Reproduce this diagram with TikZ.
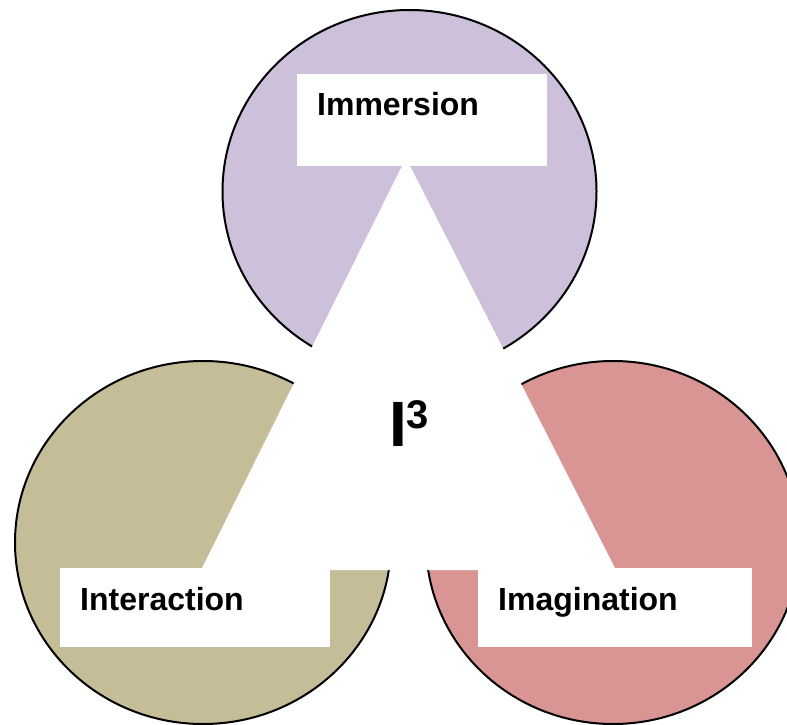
\documentclass[tikz,border=0pt]{standalone}
\usepackage{fontspec}
\setmainfont{Liberation Sans}
\definecolor{lav}{HTML}{CCC0DA}
\definecolor{tan}{HTML}{C4BD97}
\definecolor{rose}{HTML}{D99594}
\begin{document}
\begin{tikzpicture}[x=1pt,y=-1pt,
  blob/.style={draw=black,line width=2pt},
  lbox/.style={fill=white},
  lbl/.style={anchor=base west,inner sep=0pt,font=\fontsize{32}{32}\selectfont\bfseries}]
\useasboundingbox (0,0) rectangle (787,725);
\clip (0,0) rectangle (787,725);
\fill[white] (0,0) rectangle (787,725);
% circles
\filldraw[blob,fill=lav] (409.5,191.5) ellipse [x radius=187,y radius=181.5];
\filldraw[blob,fill=tan] (203,542.5) ellipse [x radius=188,y radius=181.5];
\filldraw[blob,fill=rose] (613,542.5) ellipse [x radius=187,y radius=181.5];
% triangle
\coordinate (apex) at (406,158);
\coordinate (bl) at (201,570);
\coordinate (br) at (616,570);
\fill[white] (apex) -- (bl) -- (br) -- cycle;
% label boxes
\fill[lbox] (297,74) rectangle (547,166);
\fill[lbox] (60,568) rectangle (330,647);
\fill[lbox] (478,568) rectangle (752,647);
\node[lbl] (imm) at (317,115) {Immersion};
\node[lbl] (int) at (80,610) {Interaction};
\node[lbl] (ima) at (498,610) {Imagination};
\node[anchor=base west,inner sep=0pt,font=\fontsize{64}{64}\selectfont\bfseries] (i3) at (389,446) {I\raisebox{18pt}{\fontsize{40}{40}\selectfont\bfseries 3}};
\end{tikzpicture}
\end{document}
